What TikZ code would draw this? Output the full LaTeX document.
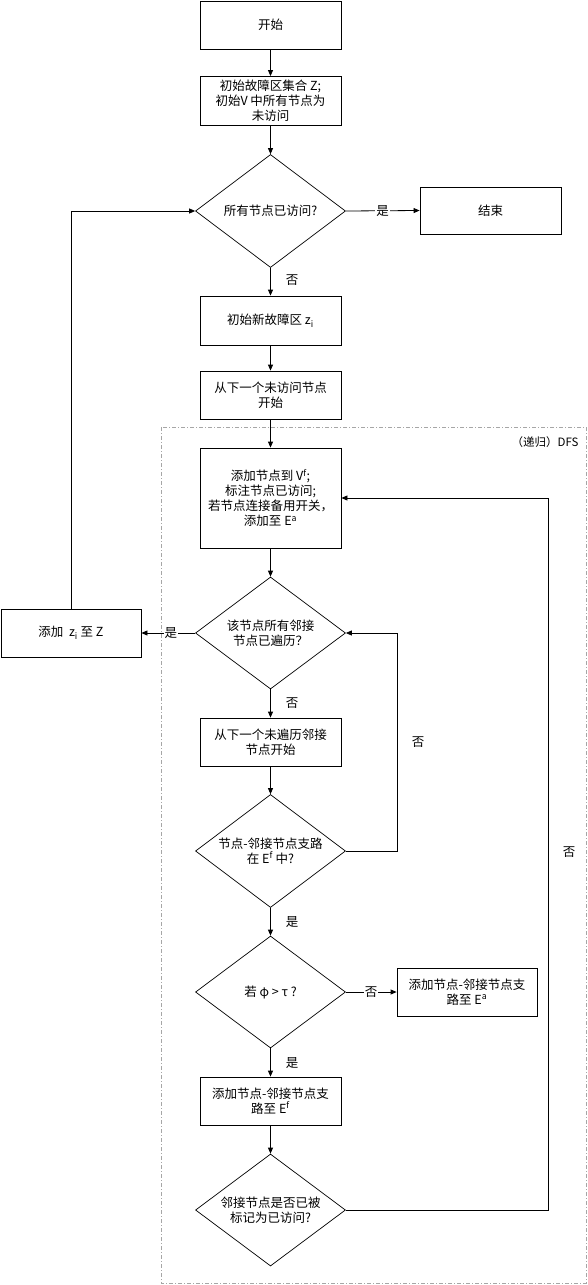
\documentclass[tikz,border=0pt]{standalone}
\usepackage{fontspec}
\newfontfamily\cjk{Noto Sans CJK SC}
\usetikzlibrary{shapes.geometric,arrows.meta}
\newcommand\sps[1]{\textsuperscript{#1}}
\newcommand\sbs[1]{\textsubscript{#1}}
\begin{document}
\begin{tikzpicture}[x=1pt,y=-1pt,
  every node/.style={font=\cjk\fontsize{12.5}{15}\selectfont},
  box/.style={draw, line width=0.8pt, minimum width=141pt, minimum height=48pt, inner sep=0pt, align=center},
  dia/.style={draw, line width=0.7pt, diamond, aspect=1.33, minimum width=150pt, minimum height=113pt, inner sep=0pt, align=center},
  arr/.style={draw, line width=0.8pt, -{Triangle[length=6pt,width=5pt]}},
  lbl/.style={fill=white, inner sep=1pt},
  grp/.style={draw=gray!70, line width=0.6pt, dash pattern=on 4pt off 2pt on 1pt off 2pt}]
\useasboundingbox (0,0) rectangle (587,1285);
% group frame
\draw[grp] (161,427) rectangle (586,1283);
\node[anchor=east, font=\cjk\fontsize{11.5}{13}\selectfont] (dfs) at (582,442) {（递归）DFS};
% nodes
\node[box] (start) at (270.5,25) {开始};
\node[box, minimum height=49pt] (init) at (270.5,101) {初始故障区集合 Z;\\初始V 中所有节点为\\未访问};
\node[dia] (d1) at (270.5,211) {所有节点已访问?};
\node[box, minimum width=141pt, minimum height=47pt] (end) at (490.5,210.5) {结束};
\node[box, minimum height=49pt] (newz) at (270.5,320.5) {初始新故障区 z\sbs{i}};
\node[box] (next) at (270.5,395) {从下一个未访问节点\\开始};
\node[box, minimum height=100pt] (add) at (270.5,498) {添加节点到 V\sps{f};\\标注节点已访问;\\若节点连接备用开关，\\添加至 E\sps{a}};
\node[dia, minimum height=112pt] (d2) at (270.5,633) {该节点所有邻接\\节点已遍历？};
\node[box, minimum width=140pt] (addz) at (71,633) {添加\ \ z\sbs{i} 至 Z};
\node[box] (nextadj) at (270.5,742) {从下一个未遍历邻接\\节点开始};
\node[dia] (d3) at (270.5,851) {节点-邻接节点支路\\在 E\sps{f} 中?};
\node[dia, minimum height=112pt] (d4) at (270.5,992) {若 φ > τ ?};
\node[box, minimum width=140pt] (ea) at (467,992) {添加节点-邻接节点支\\路至 E\sps{a}};
\node[box] (ef) at (270.5,1101) {添加节点-邻接节点支\\路至 E\sps{f}};
\node[dia, minimum height=112pt] (d5) at (270.5,1210) {邻接节点是否已被\\标记为已访问?};
% helper coordinates
\coordinate (c3) at (397,851);
\coordinate (c5) at (548,1210);
% connectors
\draw[arr] (start) -- (init);
\draw[arr] (init) -- (d1);
\draw[arr] (d1.east) -- (end.west) node[lbl, pos=0.5] (l1) {是};
\draw[arr] (d1.south) -- (newz.north);
\node (l2) at (292,280) {否};
\draw[arr] (newz) -- (next);
\draw[arr] (next) -- (add);
\draw[arr] (add) -- (d2);
\draw[arr] (d2.west) -- (addz.east) node[lbl, pos=0.45] (l3) {是};
\draw[arr] (d2.south) -- (nextadj.north);
\node (l4) at (292,703) {否};
\draw[arr] (nextadj) -- (d3);
\draw[arr] (d3.east) -- (c3) |- (d2.east);
\node (l5) at (418,742) {否};
\draw[arr] (d3.south) -- (d4.north);
\node (l6) at (292,922) {是};
\draw[arr] (d4.east) -- (ea.west) node[lbl, pos=0.5] (l7) {否};
\draw[arr] (d4.south) -- (ef.north);
\node (l8) at (292,1063) {是};
\draw[arr] (ef) -- (d5);
\draw[arr] (d5.east) -- (c5) |- (add.east);
\node (l9) at (569,852) {否};
\draw[arr] (addz.north) |- (d1.west);
\end{tikzpicture}
\end{document}
